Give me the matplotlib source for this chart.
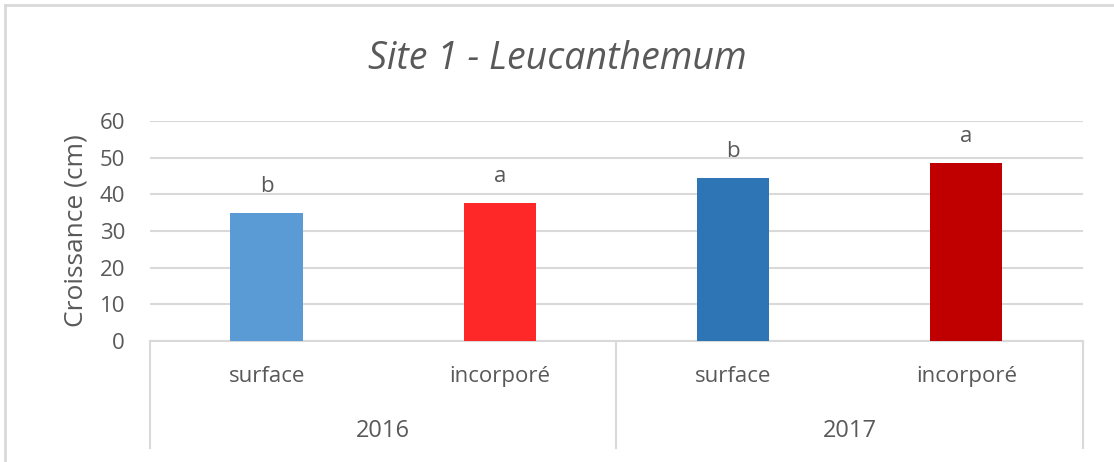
import matplotlib.pyplot as plt
from matplotlib.lines import Line2D

# data
treatments = ["surface", "incorporé", "surface", "incorporé"]
years = ["2016", "2017"]
growth = [35.0, 37.6, 44.4, 48.5]
letters = ["b", "a", "b", "a"]
colors = ["#5b9bd5", "#ff2828", "#2e75b6", "#c00000"]

plt.rcParams["font.family"] = ["Open Sans", "DejaVu Sans"]
TXT = "#595959"
GRID = "#d9d9d9"

fig = plt.figure(figsize=(11.14, 4.62), dpi=100)
ax = fig.add_axes([0.1346, 0.2619, 0.8375, 0.4762])

x = list(range(len(growth)))
ax.bar(x, growth, width=0.31, color=colors, zorder=3)

for xi, v, lab in zip(x, growth, letters):
    ax.annotate(lab, (xi, v), xytext=(0, 15), textcoords="offset points",
                ha="center", va="baseline", fontsize=16, color=TXT)

ax.set_ylim(0, 60)
ax.set_xlim(-0.5, len(growth) - 0.5)
ax.set_yticks(range(0, 61, 10))
ax.yaxis.grid(True, color=GRID, linewidth=1.5, zorder=0)
ax.tick_params(axis="y", length=0, labelsize=16, labelcolor=TXT, pad=18)
ax.set_xticks([])
for s in ["top", "right", "left"]:
    ax.spines[s].set_visible(False)
ax.spines["bottom"].set_color(GRID)
ax.spines["bottom"].set_linewidth(1.5)
ax.set_ylabel("Croissance (cm)", fontsize=19, color=TXT, labelpad=8)

# two-level category axis
tr = ax.get_xaxis_transform()
for xi, t in zip(x, treatments):
    ax.text(xi, -0.1636, t, transform=tr, ha="center", va="center",
            fontsize=16, color=TXT)
n_per = len(treatments) // len(years)
for i, yr in enumerate(years):
    mid = i * n_per + (n_per - 1) / 2
    ax.text(mid, -0.409, yr, transform=tr, ha="center", va="center",
            fontsize=17, color=TXT)
for i in range(len(years) + 1):
    xs = i * n_per - 0.5
    ax.add_line(Line2D([xs, xs], [0, -0.486], transform=tr, color=GRID,
                       linewidth=1.5, clip_on=False))

fig.text(0.5, 0.872, "Site 1 - Leucanthemum", ha="center", va="center",
         fontsize=27, style="italic", color=TXT)

# chart frame (top / left edges visible)
fig.add_artist(Line2D([0.0045, 1], [0.99, 0.99], transform=fig.transFigure,
                      color=GRID, linewidth=2))
fig.add_artist(Line2D([0.0045, 0.0045], [0, 0.99], transform=fig.transFigure,
                      color=GRID, linewidth=2))

fig.savefig("out.png", dpi=100)
